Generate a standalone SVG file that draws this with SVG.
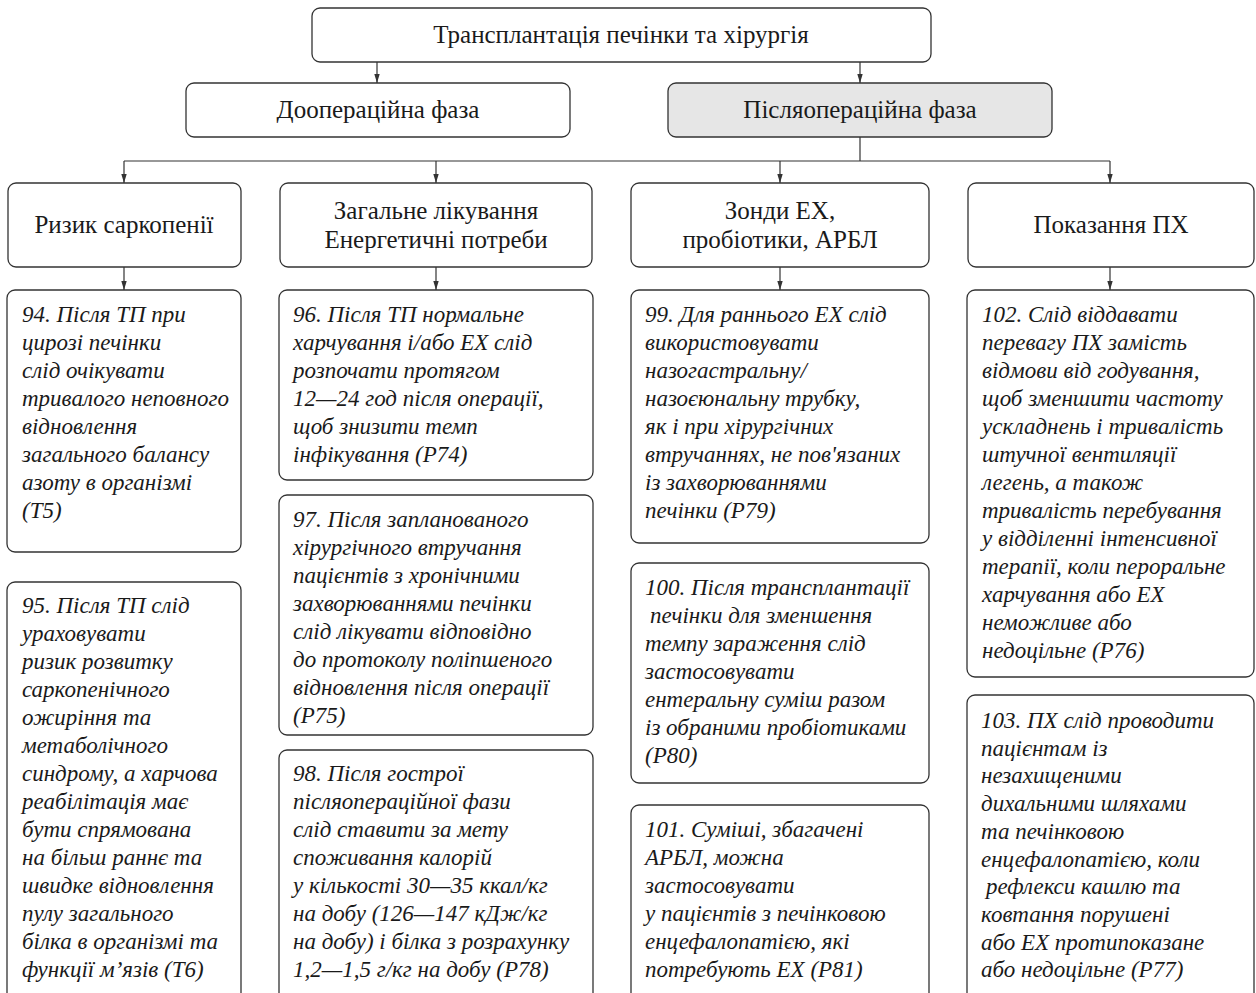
<svg xmlns="http://www.w3.org/2000/svg" width="1256" height="993" viewBox="0 0 1256 993">
<style>
.box{fill:#fff;stroke:#333;stroke-width:1.3}
.grey{fill:#e6e6e6}
.h{font-family:"Liberation Serif","DejaVu Serif",serif;font-size:25px;fill:#1a1a1a;text-anchor:middle}
.b{font-family:"Liberation Serif","DejaVu Serif",serif;font-style:italic;font-size:23px;fill:#1a1a1a}
.c{fill:none;stroke:#333;stroke-width:1.2}
</style>
<defs>
<marker id="ah" viewBox="0 0 10 10" refX="10" refY="5" markerWidth="9" markerHeight="9" markerUnits="userSpaceOnUse" orient="auto">
<path d="M0,2 L10,5 L0,8 z" fill="#333"/>
</marker>
</defs>
<g id="connectors">
<line class="c" x1="377" y1="62" x2="377" y2="83" marker-end="url(#ah)"/>
<line class="c" x1="860" y1="62" x2="860" y2="83" marker-end="url(#ah)"/>
<polyline class="c" points="860,137 860,161"/>
<polyline class="c" points="124,161 1110,161"/>
<line class="c" x1="124" y1="161" x2="124" y2="183" marker-end="url(#ah)"/>
<line class="c" x1="436" y1="161" x2="436" y2="183" marker-end="url(#ah)"/>
<line class="c" x1="780" y1="161" x2="780" y2="183" marker-end="url(#ah)"/>
<line class="c" x1="1110" y1="161" x2="1110" y2="183" marker-end="url(#ah)"/>
<line class="c" x1="124" y1="267" x2="124" y2="290" marker-end="url(#ah)"/>
<line class="c" x1="436" y1="267" x2="436" y2="290" marker-end="url(#ah)"/>
<line class="c" x1="780" y1="267" x2="780" y2="290" marker-end="url(#ah)"/>
<line class="c" x1="1110" y1="267" x2="1110" y2="290" marker-end="url(#ah)"/>
</g>
<g id="n-root">
<rect class="box" x="312" y="8" width="619" height="54" rx="8"/>
<text class="h" x="621" y="43">Трансплантація печінки та хірургія</text>
</g>
<g id="n-preop">
<rect class="box" x="186" y="83" width="384" height="54" rx="8"/>
<text class="h" x="378" y="118">Доопераційна фаза</text>
</g>
<g id="n-postop">
<rect class="box grey" x="668" y="83" width="384" height="54" rx="8"/>
<text class="h" x="860" y="118">Післяопераційна фаза</text>
</g>
<g id="n-sarc">
<rect class="box" x="8" y="183" width="233" height="84" rx="8"/>
<text class="h" x="124" y="233">Ризик саркопенії</text>
</g>
<g id="n-general">
<rect class="box" x="280" y="183" width="312" height="84" rx="8"/>
<text class="h" x="436" y="219">Загальне лікування</text>
<text class="h" x="436" y="248">Енергетичні потреби</text>
</g>
<g id="n-tubes">
<rect class="box" x="631" y="183" width="298" height="84" rx="8"/>
<text class="h" x="780" y="219">Зонди ЕХ,</text>
<text class="h" x="780" y="248">пробіотики, АРБЛ</text>
</g>
<g id="n-pn">
<rect class="box" x="968" y="183" width="286" height="84" rx="8"/>
<text class="h" x="1111" y="233">Показання ПХ</text>
</g>
<g id="n94">
<rect class="box" x="7" y="290" width="234" height="262" rx="8"/>
<text class="b" x="22" y="322"><tspan x="22">94. Після ТП при</tspan><tspan x="22" dy="28">цирозі печінки</tspan><tspan x="22" dy="28">слід очікувати</tspan><tspan x="22" dy="28">тривалого неповного</tspan><tspan x="22" dy="28">відновлення</tspan><tspan x="22" dy="28">загального балансу</tspan><tspan x="22" dy="28">азоту в організмі</tspan><tspan x="22" dy="28">(Т5)</tspan></text>
</g>
<g id="n95">
<rect class="box" x="7" y="582" width="234" height="420" rx="8"/>
<text class="b" x="22" y="613"><tspan x="22">95. Після ТП слід</tspan><tspan x="22" dy="28">ураховувати</tspan><tspan x="22" dy="28">ризик розвитку</tspan><tspan x="22" dy="28">саркопенічного</tspan><tspan x="22" dy="28">ожиріння та</tspan><tspan x="22" dy="28">метаболічного</tspan><tspan x="22" dy="28">синдрому, а харчова</tspan><tspan x="22" dy="28">реабілітація має</tspan><tspan x="22" dy="28">бути спрямована</tspan><tspan x="22" dy="28">на більш раннє та</tspan><tspan x="22" dy="28">швидке відновлення</tspan><tspan x="22" dy="28">пулу загального</tspan><tspan x="22" dy="28">білка в організмі та</tspan><tspan x="22" dy="28">функції м’язів (Т6)</tspan></text>
</g>
<g id="n96">
<rect class="box" x="279" y="290" width="314" height="190" rx="8"/>
<text class="b" x="293" y="322"><tspan x="293">96. Після ТП нормальне</tspan><tspan x="293" dy="28">харчування і/або ЕХ слід</tspan><tspan x="293" dy="28">розпочати протягом</tspan><tspan x="293" dy="28">12—24 год після операції,</tspan><tspan x="293" dy="28">щоб знизити темп</tspan><tspan x="293" dy="28">інфікування (Р74)</tspan></text>
</g>
<g id="n97">
<rect class="box" x="279" y="495" width="314" height="240" rx="8"/>
<text class="b" x="293" y="527"><tspan x="293">97. Після запланованого</tspan><tspan x="293" dy="28">хірургічного втручання</tspan><tspan x="293" dy="28">пацієнтів з хронічними</tspan><tspan x="293" dy="28">захворюваннями печінки</tspan><tspan x="293" dy="28">слід лікувати відповідно</tspan><tspan x="293" dy="28">до протоколу поліпшеного</tspan><tspan x="293" dy="28">відновлення після операції</tspan><tspan x="293" dy="28">(Р75)</tspan></text>
</g>
<g id="n98">
<rect class="box" x="279" y="750" width="314" height="260" rx="8"/>
<text class="b" x="293" y="781"><tspan x="293">98. Після гострої</tspan><tspan x="293" dy="28">післяопераційної фази</tspan><tspan x="293" dy="28">слід ставити за мету</tspan><tspan x="293" dy="28">споживання калорій</tspan><tspan x="293" dy="28">у кількості 30—35 ккал/кг</tspan><tspan x="293" dy="28">на добу (126—147 кДж/кг</tspan><tspan x="293" dy="28">на добу) і білка з розрахунку</tspan><tspan x="293" dy="28">1,2—1,5 г/кг на добу (Р78)</tspan></text>
</g>
<g id="n99">
<rect class="box" x="631" y="290" width="298" height="253" rx="8"/>
<text class="b" x="645" y="322"><tspan x="645">99. Для раннього ЕХ слід</tspan><tspan x="645" dy="28">використовувати</tspan><tspan x="645" dy="28">назогастральну/</tspan><tspan x="645" dy="28">назоєюнальну трубку,</tspan><tspan x="645" dy="28">як і при хірургічних</tspan><tspan x="645" dy="28">втручаннях, не пов'язаних</tspan><tspan x="645" dy="28">із захворюваннями</tspan><tspan x="645" dy="28">печінки (Р79)</tspan></text>
</g>
<g id="n100">
<rect class="box" x="631" y="563" width="298" height="220" rx="8"/>
<text class="b" x="645" y="595"><tspan x="645">100. Після трансплантації</tspan><tspan x="650" dy="28">печінки для зменшення</tspan><tspan x="645" dy="28">темпу зараження слід</tspan><tspan x="645" dy="28">застосовувати</tspan><tspan x="645" dy="28">ентеральну суміш разом</tspan><tspan x="645" dy="28">із обраними пробіотиками</tspan><tspan x="645" dy="28">(Р80)</tspan></text>
</g>
<g id="n101">
<rect class="box" x="631" y="805" width="298" height="205" rx="8"/>
<text class="b" x="645" y="837"><tspan x="645">101. Суміші, збагачені</tspan><tspan x="645" dy="28">АРБЛ, можна</tspan><tspan x="645" dy="28">застосовувати</tspan><tspan x="645" dy="28">у пацієнтів з печінковою</tspan><tspan x="645" dy="28">енцефалопатією, які</tspan><tspan x="645" dy="28">потребують ЕХ (Р81)</tspan></text>
</g>
<g id="n102">
<rect class="box" x="967" y="290" width="287" height="387" rx="8"/>
<text class="b" x="982" y="322"><tspan x="982">102. Слід віддавати</tspan><tspan x="982" dy="28">перевагу ПХ замість</tspan><tspan x="982" dy="28">відмови від годування,</tspan><tspan x="982" dy="28">щоб зменшити частоту</tspan><tspan x="982" dy="28">ускладнень і тривалість</tspan><tspan x="982" dy="28">штучної вентиляції</tspan><tspan x="982" dy="28">легень, а також</tspan><tspan x="982" dy="28">тривалість перебування</tspan><tspan x="982" dy="28">у відділенні інтенсивної</tspan><tspan x="982" dy="28">терапії, коли пероральне</tspan><tspan x="982" dy="28">харчування або ЕХ</tspan><tspan x="982" dy="28">неможливе або</tspan><tspan x="982" dy="28">недоцільне (Р76)</tspan></text>
</g>
<g id="n103">
<rect class="box" x="967" y="695" width="287" height="315" rx="8"/>
<text class="b" x="981" y="728"><tspan x="981">103. ПХ слід проводити</tspan><tspan x="981" dy="27.7">пацієнтам із</tspan><tspan x="981" dy="27.7">незахищеними</tspan><tspan x="981" dy="27.7">дихальними шляхами</tspan><tspan x="981" dy="27.7">та печінковою</tspan><tspan x="981" dy="27.7">енцефалопатією, коли</tspan><tspan x="986" dy="27.7">рефлекси кашлю та</tspan><tspan x="981" dy="27.7">ковтання порушені</tspan><tspan x="981" dy="27.7">або ЕХ протипоказане</tspan><tspan x="981" dy="27.7">або недоцільне (Р77)</tspan></text>
</g>
</svg>
